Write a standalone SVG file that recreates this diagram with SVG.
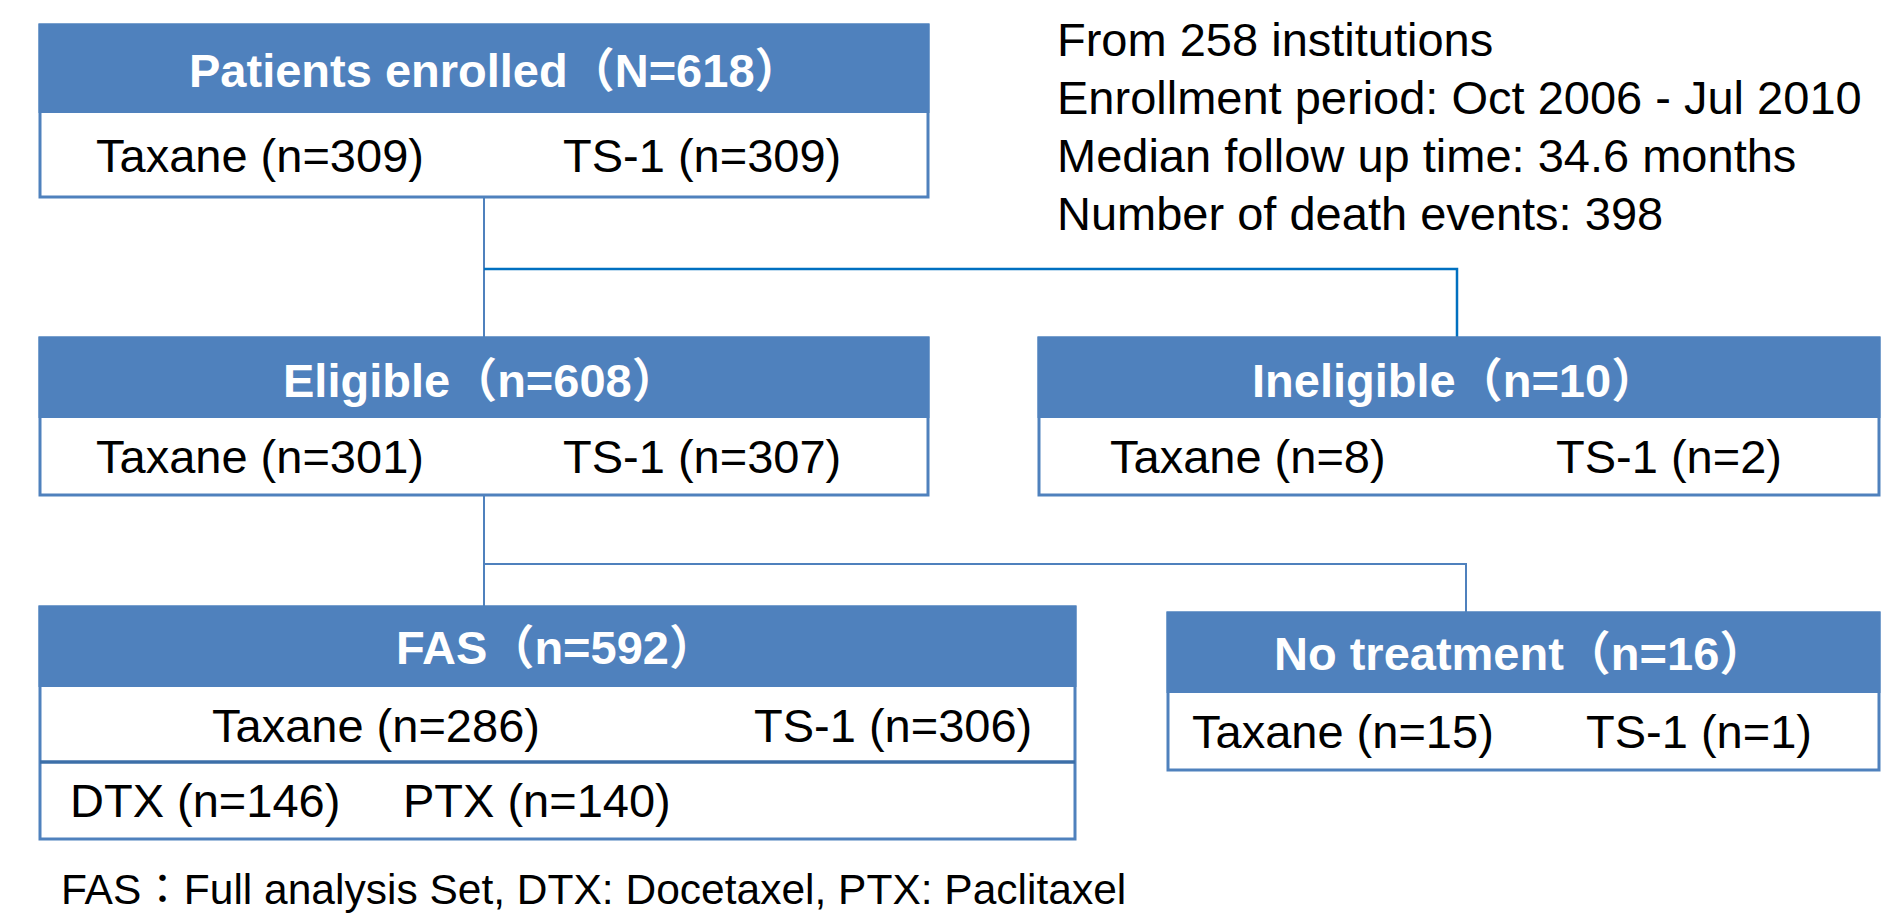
<svg xmlns="http://www.w3.org/2000/svg" width="1881" height="915" viewBox="0 0 1881 915">
<style>
  .box { fill: #ffffff; stroke: #4F81BD; stroke-width: 3; }
  .hdr { fill: #4F81BD; }
  .htxt { font-family: "Liberation Sans", "Noto Sans CJK SC", Arial, sans-serif; font-size: 47px; font-weight: bold; fill: #ffffff; }
  .btxt { font-family: "Liberation Sans", "Noto Sans CJK SC", Arial, sans-serif; font-size: 47px; fill: #000000; }
  .note { font-family: "Liberation Sans", "Noto Sans CJK TC", Arial, sans-serif; font-size: 42.5px; fill: #000000; }
  .con { fill: none; stroke: #4F81BD; stroke-width: 2; }
  .con2 { fill: none; stroke: #0070C0; stroke-width: 2.5; }
</style>
<rect width="1881" height="915" fill="#ffffff"/>
<g id="connectors">
  <line class="con" x1="484" y1="197" x2="484" y2="338"/>
  <polyline class="con2" points="484,269 1457,269 1457,345"/>
  <line class="con" x1="484" y1="495" x2="484" y2="612"/>
  <polyline class="con" points="484,564 1466,564 1466,622"/>
</g>
<g id="enrolled">
  <rect class="box" x="40" y="25" width="888" height="172"/>
  <rect class="hdr" x="38.5" y="23.5" width="891" height="89.5"/>
  <text class="htxt" x="189" y="87">Patients enrolled（N=618）</text>
  <text class="btxt" x="96" y="172">Taxane (n=309)</text>
  <text class="btxt" x="563" y="172">TS-1 (n=309)</text>
</g>
<g id="eligible">
  <rect class="box" x="40" y="338" width="888" height="157"/>
  <rect class="hdr" x="38.5" y="336.5" width="891" height="81.5"/>
  <text class="htxt" x="283" y="397">Eligible（n=608）</text>
  <text class="btxt" x="96" y="473">Taxane (n=301)</text>
  <text class="btxt" x="563" y="473">TS-1 (n=307)</text>
</g>
<g id="ineligible">
  <rect class="box" x="1039" y="338" width="840" height="157"/>
  <rect class="hdr" x="1037.5" y="336.5" width="843" height="81.5"/>
  <text class="htxt" x="1252" y="397">Ineligible（n=10）</text>
  <text class="btxt" x="1110" y="473">Taxane (n=8)</text>
  <text class="btxt" x="1556" y="473">TS-1 (n=2)</text>
</g>
<g id="fas">
  <rect class="box" x="40" y="607" width="1035" height="232"/>
  <rect class="hdr" x="38.5" y="605.5" width="1038" height="81.5"/>
  <line x1="40" y1="762" x2="1075" y2="762" stroke="#3C6FA8" stroke-width="3.5"/>
  <text class="htxt" x="396" y="664">FAS（n=592）</text>
  <text class="btxt" x="212" y="742">Taxane (n=286)</text>
  <text class="btxt" x="754" y="742">TS-1 (n=306)</text>
  <text class="btxt" x="70" y="817">DTX (n=146)</text>
  <text class="btxt" x="403" y="817">PTX (n=140)</text>
</g>
<g id="notreatment">
  <rect class="box" x="1168" y="613" width="711" height="157"/>
  <rect class="hdr" x="1166.5" y="611.5" width="714" height="81.5"/>
  <text class="htxt" x="1274" y="670">No treatment（n=16）</text>
  <text class="btxt" x="1192" y="748">Taxane (n=15)</text>
  <text class="btxt" x="1586" y="748">TS-1 (n=1)</text>
</g>
<g id="info">
  <text class="btxt" x="1057" y="56">From 258 institutions</text>
  <text class="btxt" x="1057" y="114">Enrollment period: Oct 2006 - Jul 2010</text>
  <text class="btxt" x="1057" y="172">Median follow up time: 34.6 months</text>
  <text class="btxt" x="1057" y="230">Number of death events: 398</text>
</g>
<g id="footnote">
  <text class="note" x="61" y="904">FAS：Full analysis Set, DTX: Docetaxel, PTX: Paclitaxel</text>
</g>
</svg>
